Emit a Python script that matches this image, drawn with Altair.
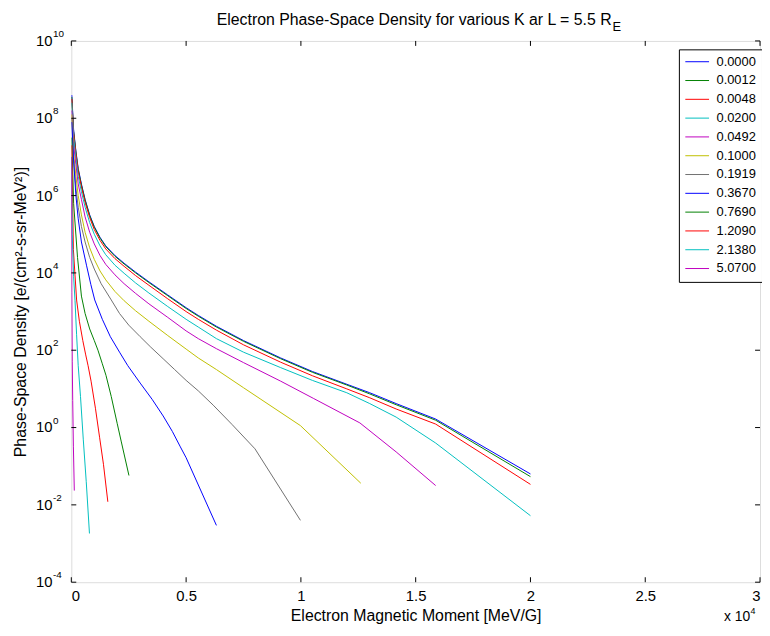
import altair as alt
import pandas as pd

# ---------------- data (x in units of 10^4 MeV/G, y as log10 of PSD) -------------
K_LABELS = ["0.0000", "0.0012", "0.0048", "0.0200", "0.0492", "0.1000",
            "0.1919", "0.3670", "0.7690", "1.2090", "2.1380", "5.0700"]
COLORS = ["#0000FF", "#008000", "#FF0000", "#00BFBF", "#BF00BF", "#BFBF00",
          "#707070", "#0000FF", "#008000", "#FF0000", "#00BFBF", "#BF00BF"]

GRID_A = [0.002, 0.01, 0.02, 0.03, 0.044, 0.06, 0.08, 0.1, 0.125, 0.15, 0.19, 0.23, 0.28,
          0.338, 0.42, 0.5, 0.553, 0.632, 0.75, 0.912, 1.05, 1.2, 1.3, 1.415, 1.587, 2.0]

mu_k00 = GRID_A
lg_k00 = [8.6, 7.7, 7.15, 6.7, 6.3, 5.9, 5.5, 5.2, 4.92, 4.7, 4.45, 4.25, 4.02,
          3.77, 3.43, 3.1, 2.9, 2.62, 2.25, 1.8, 1.45, 1.12, 0.9, 0.62, 0.22, -1.2]
mu_k01 = GRID_A
lg_k01 = [8.55, 7.66, 7.12, 6.67, 6.27, 5.88, 5.48, 5.18, 4.9, 4.68, 4.43, 4.23, 4.0,
          3.75, 3.41, 3.08, 2.88, 2.6, 2.23, 1.78, 1.43, 1.1, 0.87, 0.59, 0.19, -1.27]
mu_k02 = GRID_A
lg_k02 = [8.5, 7.6, 7.08, 6.62, 6.22, 5.82, 5.43, 5.12, 4.84, 4.62, 4.37, 4.17, 3.93,
          3.68, 3.33, 3.0, 2.8, 2.52, 2.14, 1.69, 1.34, 1.0, 0.77, 0.48, 0.09, -1.47]
mu_k03 = GRID_A
lg_k03 = [8.4, 7.5, 6.95, 6.5, 6.1, 5.7, 5.3, 5.0, 4.7, 4.47, 4.2, 3.99, 3.74,
          3.48, 3.13, 2.8, 2.6, 2.3, 1.95, 1.55, 1.22, 0.9, 0.62, 0.27, -0.4, -2.28]
mu_k04 = [0.002, 0.01, 0.02, 0.03, 0.044, 0.06, 0.08, 0.1, 0.125, 0.15, 0.19, 0.23, 0.28,
          0.338, 0.42, 0.5, 0.553, 0.632, 0.75, 0.912, 1.056, 1.257, 1.415, 1.587]
lg_k04 = [8.2, 7.3, 6.8, 6.3, 5.9, 5.45, 5.05, 4.75, 4.45, 4.22, 3.95, 3.72, 3.47,
          3.2, 2.85, 2.5, 2.3, 2.04, 1.68, 1.2, 0.75, 0.12, -0.63, -1.5]
mu_k05 = [0.002, 0.01, 0.02, 0.03, 0.044, 0.06, 0.08, 0.1, 0.125, 0.15, 0.19, 0.23, 0.28,
          0.338, 0.42, 0.5, 0.553, 0.632, 0.75, 0.826, 0.998, 1.261]
lg_k05 = [8.1, 7.1, 6.5, 6.0, 5.5, 5.05, 4.65, 4.35, 4.05, 3.82, 3.52, 3.28, 3.02,
          2.75, 2.38, 2.03, 1.8, 1.5, 1.03, 0.73, 0.05, -1.44]
mu_k06 = [0.002, 0.01, 0.02, 0.03, 0.044, 0.06, 0.08, 0.1, 0.13, 0.174, 0.21, 0.25, 0.3,
          0.346, 0.4, 0.45, 0.5, 0.553, 0.618, 0.7, 0.8, 0.998]
lg_k06 = [8.0, 6.9, 6.2, 5.7, 5.2, 4.8, 4.4, 4.1, 3.72, 3.3, 2.95, 2.65, 2.35,
          2.08, 1.78, 1.5, 1.22, 0.95, 0.58, 0.08, -0.55, -2.4]
mu_k07 = [0.002, 0.009, 0.02, 0.03, 0.044, 0.066, 0.085, 0.102, 0.135, 0.17, 0.21, 0.246,
          0.3, 0.352, 0.4, 0.44, 0.475, 0.5, 0.632]
lg_k07 = [7.9, 7.0, 6.0, 5.4, 4.8, 4.2, 3.7, 3.3, 2.8, 2.35, 1.95, 1.6,
          1.15, 0.73, 0.3, -0.1, -0.5, -0.78, -2.53]
mu_k08 = [0.002, 0.01, 0.027, 0.044, 0.06, 0.08, 0.1, 0.116, 0.135, 0.151, 0.174, 0.2, 0.217, 0.251]
lg_k08 = [7.5, 5.8, 4.4, 3.4, 2.95, 2.55, 2.25, 2.0, 1.65, 1.35, 0.8, 0.1, -0.35, -1.24]
mu_k09 = [0.002, 0.009, 0.023, 0.035, 0.05, 0.062, 0.073, 0.086, 0.105, 0.123, 0.14, 0.159]
lg_k09 = [7.3, 4.6, 3.3, 2.75, 2.25, 1.9, 1.6, 1.2, 0.5, -0.25, -0.95, -1.92]
mu_k10 = [0.001, 0.004, 0.01, 0.016, 0.023, 0.03, 0.04, 0.052, 0.065, 0.079]
lg_k10 = [7.0, 5.0, 3.9, 3.29, 2.4, 1.6, 0.8, -0.3, -1.4, -2.74]
mu_k11 = [0.0, 0.002, 0.004, 0.006, 0.009, 0.013]
lg_k11 = [7.0, 3.5, 1.7, 0.7, -0.5, -1.63]

X_TICKS = [0, 0.5, 1, 1.5, 2, 2.5, 3]
Y_TICKS = [1e-4, 1e-2, 1e0, 1e2, 1e4, 1e6, 1e8, 1e10]
Y_TICK_BASE = ["10"] * 8
Y_TICK_EXP = ["-4", "-2", "0", "2", "4", "6", "8", "10"]

TITLE_MAIN = "Electron Phase-Space Density for various K ar L = 5.5 R"
TITLE_SUB = "E"
X_TITLE = "Electron Magnetic Moment [MeV/G]"
Y_TITLE = "Phase-Space Density [e/(cm²-s-sr-MeV²)]"
X_EXP_BASE = "x 10"
X_EXP_SUP = "4"

# ---------------- build table -------------
series = [(mu_k00, lg_k00), (mu_k01, lg_k01), (mu_k02, lg_k02), (mu_k03, lg_k03),
          (mu_k04, lg_k04), (mu_k05, lg_k05), (mu_k06, lg_k06), (mu_k07, lg_k07),
          (mu_k08, lg_k08), (mu_k09, lg_k09), (mu_k10, lg_k10), (mu_k11, lg_k11)]
rows = []
for lab, (mus, lgs) in zip(K_LABELS, series):
    for i, (m, l) in enumerate(zip(mus, lgs)):
        rows.append({"K": lab, "mu": m, "psd": 10 ** l, "i": i})
df = pd.DataFrame(rows)

W, H = 696, 547
FONT = "Liberation Sans"

xscale = alt.Scale(domain=[0, 3], nice=False, zero=False)
yscale = alt.Scale(type="log", domain=[1e-4, 1e10], nice=False)

lines = alt.Chart(df).mark_line(strokeWidth=1, clip=True).encode(
    x=alt.X("mu:Q", scale=xscale,
            axis=alt.Axis(values=X_TICKS, format="~g", ticks=False, domain=False, grid=False,
                          labelPadding=7, labelFontSize=15, labelFont=FONT, labelColor="black",
                          title=X_TITLE, titleFont=FONT, titleFontSize=16, titleFontWeight="normal",
                          titleColor="black", titleX=W / 2, titleY=34, titleBaseline="middle",
                          titleAlign="center")),
    y=alt.Y("psd:Q", scale=yscale,
            axis=alt.Axis(values=Y_TICKS, labels=False, ticks=False, domain=False,
                          grid=False, title=Y_TITLE, titleFont=FONT, titleFontSize=16,
                          titleFontWeight="normal", titleColor="black", titleAngle=270,
                          titleX=-51, titleY=H / 2, titleBaseline="middle", titleAlign="center")),
    color=alt.Color("K:N", scale=alt.Scale(domain=K_LABELS, range=COLORS),
                    legend=alt.Legend(orient="none", legendX=614, legendY=8.5, title=None,
                                      symbolType="stroke", symbolSize=576, symbolStrokeWidth=1,
                                      labelFont=FONT, labelFontSize=13, labelColor="black",
                                      strokeColor="black", fillColor="white", padding=6,
                                      clipHeight=13, rowPadding=5, labelOffset=7)),
    order="i:Q",
)

tx = pd.DataFrame({"v": X_TICKS})
ty = pd.DataFrame({"v": Y_TICKS, "b": Y_TICK_BASE, "e": Y_TICK_EXP})
tick_b = alt.Chart(tx).mark_rule(color="black").encode(x=alt.X("v:Q", scale=xscale), y=alt.value(H), y2=alt.value(H - 5))
tick_t = alt.Chart(tx).mark_rule(color="black").encode(x=alt.X("v:Q", scale=xscale), y=alt.value(0), y2=alt.value(5))
tick_l = alt.Chart(ty).mark_rule(color="black").encode(y=alt.Y("v:Q", scale=yscale), x=alt.value(0), x2=alt.value(5))
tick_r = alt.Chart(ty).mark_rule(color="black").encode(y=alt.Y("v:Q", scale=yscale), x=alt.value(W), x2=alt.value(W - 5))

ylab_base = alt.Chart(ty).mark_text(font=FONT, fontSize=15, align="right", baseline="middle",
                                    color="black").encode(
    y=alt.Y("v:Q", scale=yscale), x=alt.value(-19), text="b:N")
ylab_exp = alt.Chart(ty).mark_text(font=FONT, fontSize=10, align="left", baseline="middle",
                                   color="black", dy=-7).encode(
    y=alt.Y("v:Q", scale=yscale), x=alt.value(-18.5), text="e:N")

title_main = alt.Chart(pd.DataFrame({"t": [TITLE_MAIN]})).mark_text(
    font=FONT, fontSize=16, align="right", baseline="middle", color="black"
).encode(x=alt.value(546), y=alt.value(-21), text="t:N")
title_sub = alt.Chart(pd.DataFrame({"t": [TITLE_SUB]})).mark_text(
    font=FONT, fontSize=13, align="left", baseline="middle", color="black"
).encode(x=alt.value(547), y=alt.value(-14), text="t:N")
x_exp_b = alt.Chart(pd.DataFrame({"t": [X_EXP_BASE]})).mark_text(
    font=FONT, fontSize=14, align="right", baseline="middle", color="black"
).encode(x=alt.value(W - 10), y=alt.value(H + 35), text="t:N")
x_exp_s = alt.Chart(pd.DataFrame({"t": [X_EXP_SUP]})).mark_text(
    font=FONT, fontSize=9, align="left", baseline="middle", color="black"
).encode(x=alt.value(W - 9.5), y=alt.value(H + 29), text="t:N")

chart = alt.layer(lines, tick_b, tick_t, tick_l, tick_r, ylab_base, ylab_exp,
                  title_main, title_sub, x_exp_b, x_exp_s).properties(
    width=W, height=H,
    autosize=alt.AutoSizeParams(type="none"),
    padding={"left": 64, "top": 30, "right": 2, "bottom": 43},
).configure_view(stroke="black", strokeWidth=1).configure(background="white")

chart.save("out.html", embed_options={"renderer": "svg", "actions": False})
